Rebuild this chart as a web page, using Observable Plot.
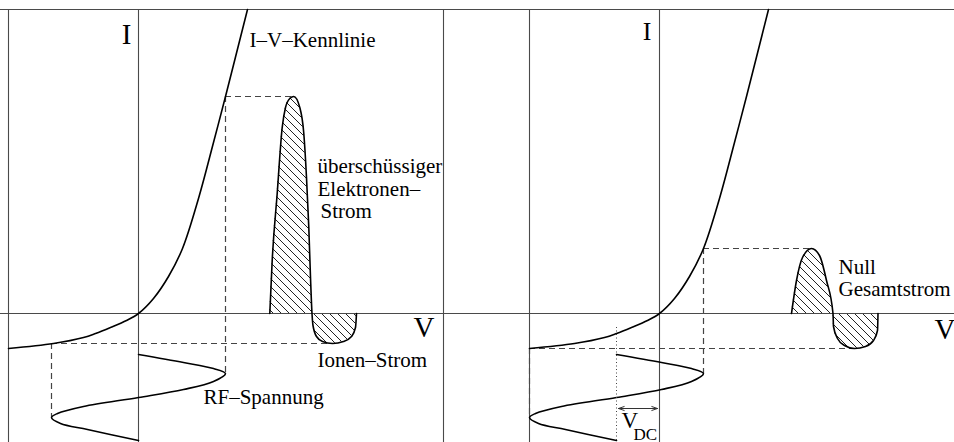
<!DOCTYPE html>
<html>
<head>
<meta charset="utf-8">
<script src="https://cdn.jsdelivr.net/npm/d3@7"></script>
<script src="https://cdn.jsdelivr.net/npm/@observablehq/plot@0.6"></script>
<style>
  html, body { margin: 0; padding: 0; background: #fff; }
  #chart { display: flex; width: 954px; height: 442px; overflow: hidden; }
  #chart svg { flex: none; display: block; }
</style>
</head>
<body>
<div id="chart"></div>
<script>
// Langmuir probe I–V characteristic (same curve in both panels)
const ivVoltage = [-13, -8.5, -5.5, -4.3, -2.8, -1.2, 0, 1.5, 3.0, 4.4, 6.0, 7.5, 8.7, 10.9];
const ivCurrent = [-3.5, -3.0, -2.4, -2.0, -1.4, -0.7, 0, 1.5, 3.7, 6.5, 11.5, 17.1, 21.7, 30.4];

// RF voltage swing around the bias, one period with time running downward
const rfTime  = [-4.1, -4.9, -5.5, -6.0, -6.8, -7.6, -8.4, -9.3, -10.0, -10.4, -11.0, -11.6, -12.7];
const rfSwing = [0, 4.5, 7.5, 8.7, 7.5, 4.5, 0, -5.5, -8.1, -8.7, -7.8, -5.1, 0];

// DC bias of the probe: left without, right with self-bias
const biasLeft = 0;
const biasRight = -4.3;

// Probe current over one RF period, time running to the right
const lobeTimeLeft    = [13.13, 13.37, 13.87, 14.37, 14.7, 15.13, 15.53, 16.13, 16.53, 16.8, 17.03, 17.2, 17.35, 17.45, 17.8, 18.4, 19.4, 20.5, 21.3, 21.7, 21.8];
const lobeCurrentLeft = [0, 5.3, 12.0, 18.6, 20.6, 21.5, 21.7, 20.6, 18.0, 13.6, 8.6, 3.6, 0, -1.2, -2.3, -2.8, -3.0, -2.8, -2.3, -1.4, 0];

const lobeTimeRight    = [13.2, 13.7, 14.3, 15.2, 16.0, 16.7, 17.35, 17.4, 17.8, 18.5, 19.5, 20.6, 21.4, 21.8, 21.85];
const lobeCurrentRight = [0, 3.3, 5.6, 6.5, 5.8, 3.3, 0, -1.3, -2.5, -3.2, -3.5, -3.3, -2.7, -1.7, 0];

const serif = "'Liberation Serif', 'Times New Roman', serif";
const axisColor = "#4a4a4a";
const dashColor = "#444";
const dash = "6,4";

function panel({id, bias, lobeTime, lobeCurrent, xRange, texts}) {
  const iv = ivVoltage.map((v, k) => ({v, i: ivCurrent[k]}));
  const rf = rfTime.map((t, k) => ({v: bias + rfSwing[k], t}));
  const lobe = lobeTime.map((t, k) => ({t, i: lobeCurrent[k]}));

  // extremes of the RF swing and of the resulting current
  const kHi = d3.maxIndex(rfSwing), kLo = d3.minIndex(rfSwing);
  const vHi = bias + rfSwing[kHi], vLo = bias + rfSwing[kLo];
  const pHi = d3.maxIndex(lobeCurrent), pLo = d3.minIndex(lobeCurrent);
  const iHi = lobeCurrent[pHi], iLo = lobeCurrent[pLo];

  const marks = [
    // hatched current lobes
    Plot.areaY(lobe, {x: "t", y1: 0, y2: "i", curve: "monotone-x", fill: `url(#${id})`}),
    // projection lines
    Plot.ruleY([iHi], {x1: vHi, x2: lobeTime[pHi], stroke: dashColor, strokeWidth: 1.2, strokeDasharray: dash}),
    Plot.ruleX([vHi], {y1: iHi, y2: rfTime[kHi], stroke: dashColor, strokeWidth: 1.2, strokeDasharray: dash}),
    Plot.ruleY([iLo], {x1: vLo, x2: lobeTime[pLo], stroke: dashColor, strokeWidth: 1.2, strokeDasharray: dash}),
    Plot.ruleX([vLo], {y1: iLo, y2: rfTime[kLo], stroke: dashColor, strokeWidth: 1.2, strokeDasharray: dash}),
    // axes
    Plot.ruleX([0], {stroke: axisColor, strokeWidth: 1.1}),
    Plot.ruleY([0], {stroke: axisColor, strokeWidth: 1.1}),
    // box
    Plot.ruleX([-13, 30.5], {stroke: axisColor, strokeWidth: 1.1}),
    Plot.ruleY([30.4], {stroke: axisColor, strokeWidth: 1.1}),
    // curves
    Plot.line(iv, {x: "v", y: "i", curve: "catmull-rom", stroke: "#000", strokeWidth: 1.6}),
    Plot.line(rf, {x: "v", y: "t", curve: "catmull-rom", stroke: "#000", strokeWidth: 1.6}),
    Plot.line(lobe, {x: "t", y: "i", curve: "monotone-x", stroke: "#000", strokeWidth: 1.6})
  ];

  if (bias !== 0) {
    const iBias = ivCurrent[ivVoltage.indexOf(bias)];
    marks.push(
      Plot.ruleX([bias], {y1: iBias, y2: -13.3, insetTop: -6, stroke: "#444", strokeWidth: 1, strokeDasharray: "1,2.5"}),
      Plot.arrow([{x1: bias / 2, x2: bias}, {x1: bias / 2, x2: 0}], {
        x1: "x1", x2: "x2", y1: -9.5, y2: -9.5, insetEnd: 2,
        headLength: 9, headAngle: 38, stroke: "#333", strokeWidth: 1
      })
    );
  }

  for (const t of texts) {
    marks.push(Plot.text([t.text], {
      x: t.x, y: t.y, text: d => d, textAnchor: t.anchor || "start", lineAnchor: "bottom",
      fontSize: t.size || 21, fontFamily: serif, fill: "#000"
    }));
  }

  const svg = Plot.plot({
    width: 477,
    height: 442,
    marginTop: 9,
    marginBottom: 0,
    marginLeft: 0,
    marginRight: 0,
    x: {domain: [-13, 30.5], range: xRange, axis: null},
    y: {domain: [-13.3, 30.4], range: [446, 9], axis: null},
    style: {fontFamily: serif, background: "#fff", overflow: "hidden"},
    marks
  });

  // diagonal hatching for the current lobes
  const pat = d3.select(svg).insert("defs", ":first-child")
    .append("pattern")
    .attr("id", id)
    .attr("patternUnits", "userSpaceOnUse")
    .attr("width", 8)
    .attr("height", 8);
  pat.append("path")
    .attr("d", "M-2,-2L10,10M-2,6L2,10M6,-2L10,2")
    .attr("stroke", "#222")
    .attr("stroke-width", 1)
    .attr("fill", "none");
  return svg;
}

const left = panel({
  id: "hatch-left",
  bias: biasLeft,
  lobeTime: lobeTimeLeft,
  lobeCurrent: lobeCurrentLeft,
  xRange: [8, 443],
  texts: [
    {text: "I", x: -0.7, y: 27.0, anchor: "end", size: 29},
    {text: "V", x: 27.5, y: -2.3, size: 29},
    {text: "I–V–Kennlinie", x: 11.1, y: 26.7},
    {text: "überschüssiger", x: 17.9, y: 14.1},
    {text: "Elektronen–", x: 17.9, y: 11.8},
    {text: "Strom", x: 18.2, y: 9.6},
    {text: "Ionen–Strom", x: 17.9, y: -5.3},
    {text: "RF–Spannung", x: 6.5, y: -9.0}
  ]
});

const right = panel({
  id: "hatch-right",
  bias: biasRight,
  lobeTime: lobeTimeRight,
  lobeCurrent: lobeCurrentRight,
  xRange: [52, 487],
  texts: [
    {text: "I", x: -0.8, y: 27.4, anchor: "end", size: 26},
    {text: "V", x: 27.5, y: -2.5, size: 29},
    {text: "Null", x: 17.9, y: 4.0},
    {text: "Gesamtstrom", x: 17.9, y: 1.8},
    {text: "V", x: -3.8, y: -11.4, size: 23},
    {text: "DC", x: -2.6, y: -12.6, size: 17}
  ]
});

const chart = document.getElementById("chart");
chart.append(left, right);
</script>
</body>
</html>
